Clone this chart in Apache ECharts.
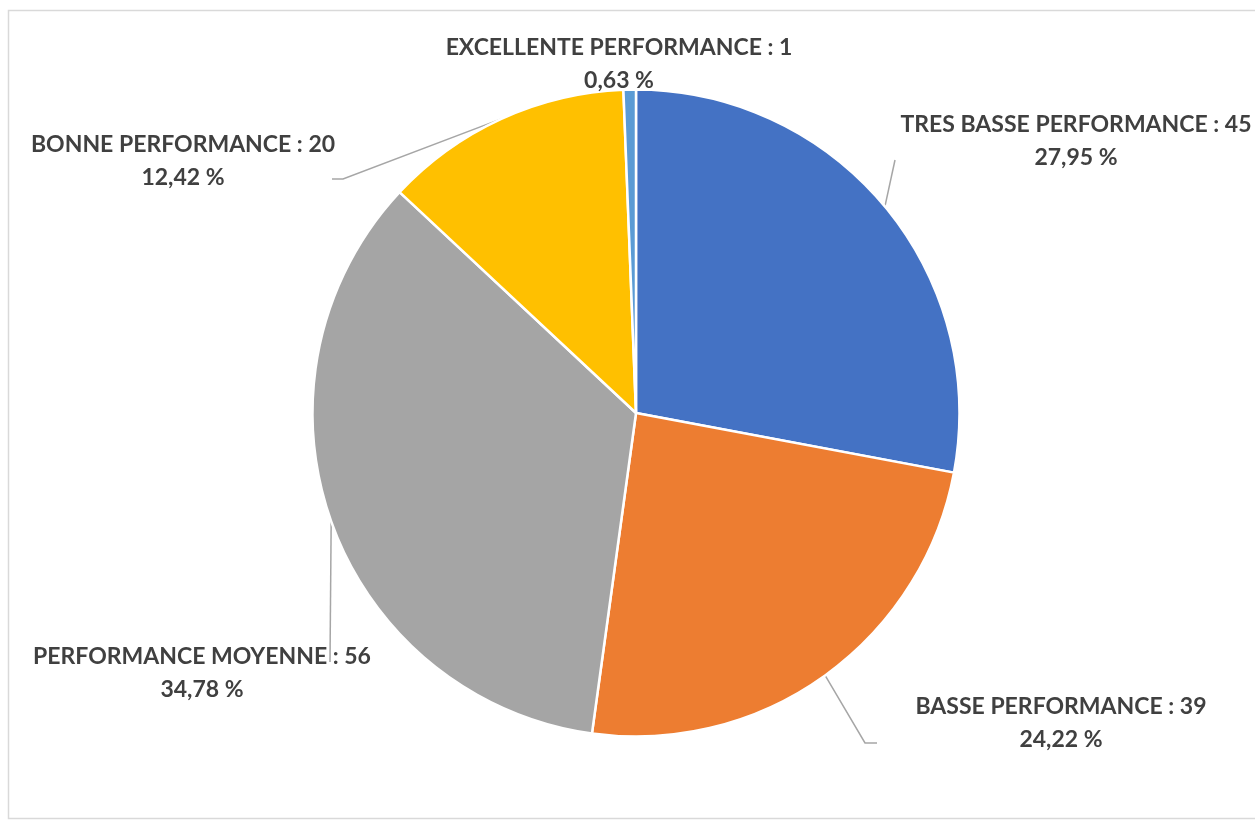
<!DOCTYPE html>
<html>
<head>
<meta charset="utf-8">
<script src="https://cdn.jsdelivr.net/npm/echarts@6/dist/echarts.min.js"></script>
<style>
  html, body { margin: 0; padding: 0; background: #ffffff; }
  #chart { width: 1255px; height: 822px; }
</style>
</head>
<body>
<div id="chart"></div>
<script>
// Performance categories and counts, clockwise from 12 o'clock
const categories = [
  'TRES BASSE PERFORMANCE',
  'BASSE PERFORMANCE',
  'PERFORMANCE MOYENNE',
  'BONNE PERFORMANCE',
  'EXCELLENTE PERFORMANCE'
];
const counts = [45, 39, 56, 20, 1];
// Published shares (rounded so that they add up to 100 %)
const shares = ['27,95 %', '24,22 %', '34,78 %', '12,42 %', '0,63 %'];
const sliceColors = ['#4472C4', '#ED7D31', '#A5A5A5', '#FFC000', '#5B9BD5'];

// Label placement: label centre and the leader-line bends after the arc point
const labelPlacement = [
  { x: 1076, y: 141, bends: [[895, 160]] },
  { x: 1061, y: 723, bends: [[865, 743], [877, 743]] },
  { x: 202, y: 673, bends: [[330, 662]] },
  { x: 183, y: 161, bends: [[343, 179], [332, 179]] },
  { x: 619, y: 64, bends: null }
];

const chart = echarts.init(document.getElementById('chart'));
chart.setOption({
  backgroundColor: '#ffffff',
  animation: false,
  graphic: [{
    type: 'rect',
    shape: { x: 8.5, y: 10.5, width: 1260, height: 808 },
    style: { fill: 'none', stroke: '#D9D9D9', lineWidth: 1.5 },
    silent: true
  }],
  series: [{
    type: 'pie',
    center: [636, 413],
    radius: 323.5,
    startAngle: 90,
    clockwise: true,
    data: categories.map((name, i) => ({
      name: name,
      value: counts[i],
      itemStyle: { color: sliceColors[i] },
      labelLine: { show: labelPlacement[i].bends !== null }
    })),
    itemStyle: { borderColor: '#ffffff', borderWidth: 2.5 },
    label: {
      show: true,
      position: 'outside',
      formatter: p => p.name + ' : ' + p.value + '\n' + shares[p.dataIndex],
      fontFamily: 'Lato, "Open Sans", sans-serif',
      fontWeight: 'bold',
      fontSize: 23,
      lineHeight: 33,
      color: '#404040',
      align: 'center',
      overflow: 'none',
      width: 500
    },
    labelLine: {
      show: true,
      lineStyle: { color: '#A6A6A6', width: 1.5 }
    },
    labelLayout: function (params) {
      const lp = labelPlacement[params.dataIndex];
      const out = {
        x: lp.x,
        y: lp.y,
        align: 'center',
        verticalAlign: 'middle',
        hideOverlap: false,
        moveOverlap: null
      };
      if (lp.bends && params.labelLinePoints) {
        out.labelLinePoints = [params.labelLinePoints[0]].concat(lp.bends);
      }
      return out;
    }
  }]
});
</script>
</body>
</html>
